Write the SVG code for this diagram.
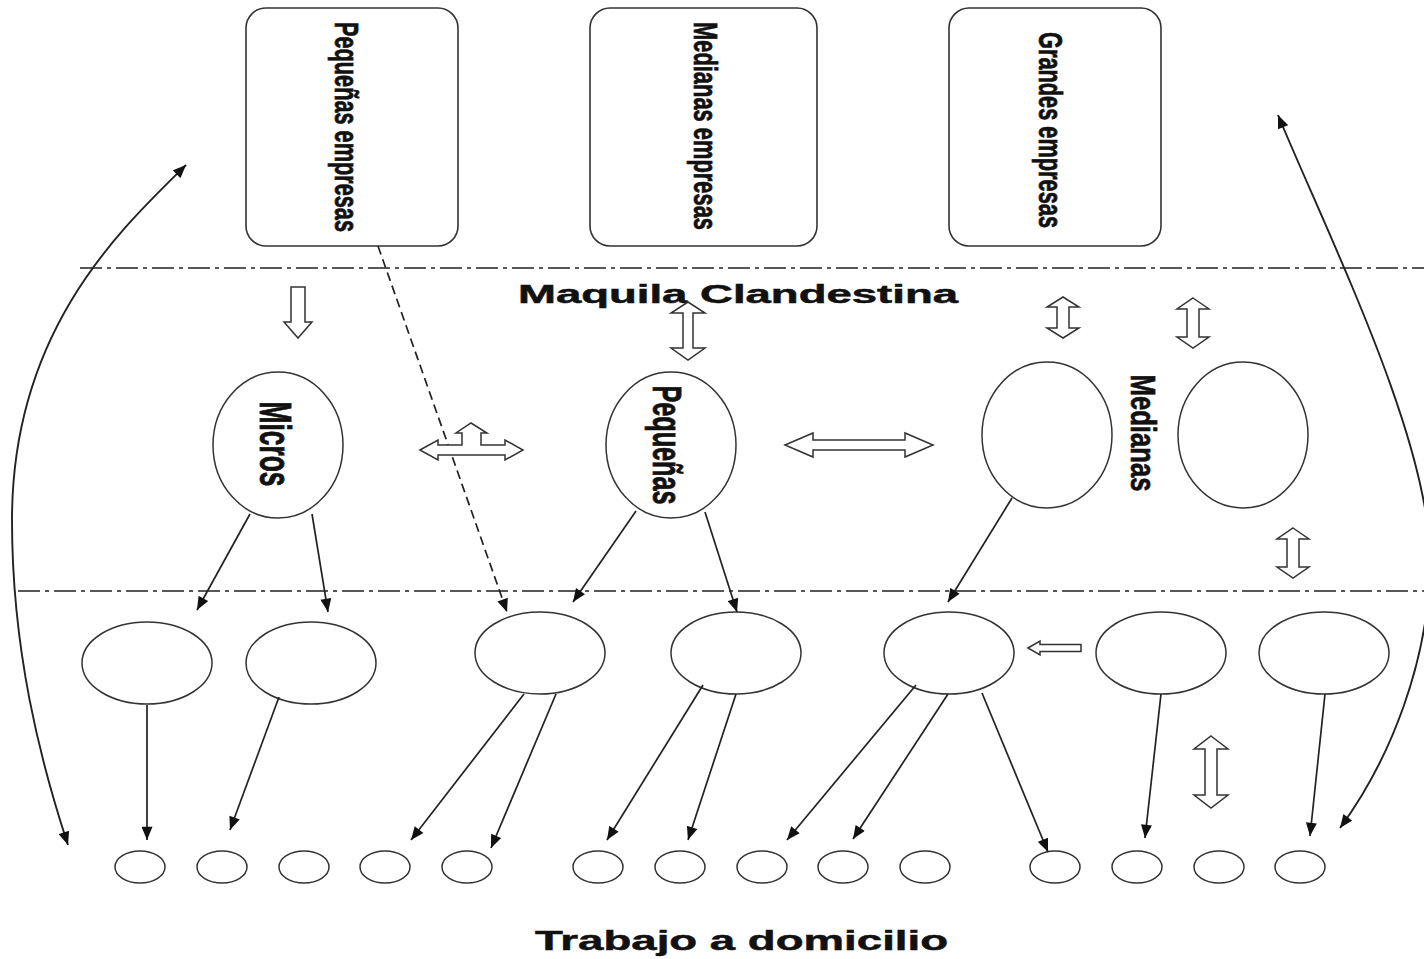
<svg xmlns="http://www.w3.org/2000/svg" width="1424" height="959" viewBox="0 0 1424 959">
<style>
.box{fill:#fff;stroke:#333;stroke-width:1.6}
.ell{fill:#fff;stroke:#333;stroke-width:1.5}
.hol{fill:#fff;stroke:#333;stroke-width:1.5;stroke-linejoin:miter}
.ln{fill:none;stroke:#222;stroke-width:1.7;marker-end:url(#ah)}
.dsh{fill:none;stroke:#222;stroke-width:1.7;stroke-dasharray:9 5;marker-end:url(#ah)}
.crv{fill:none;stroke:#222;stroke-width:1.9;marker-start:url(#ahs);marker-end:url(#ah)}
.sep{fill:none;stroke:#222;stroke-width:1.5;stroke-dasharray:22 5 4 5}
.t{font-family:"Liberation Sans",Arial,sans-serif;font-weight:bold;fill:#111;stroke:#111;stroke-width:0.5}
</style>
<defs>
<marker id="ah" viewBox="0 0 12 10" refX="12" refY="5" markerWidth="14" markerHeight="11" markerUnits="userSpaceOnUse" orient="auto"><path d="M0 0 L12 5 L0 10 Z" fill="#111"/></marker>
<marker id="ahs" viewBox="0 0 12 10" refX="12" refY="5" markerWidth="14" markerHeight="11" markerUnits="userSpaceOnUse" orient="auto-start-reverse"><path d="M0 0 L12 5 L0 10 Z" fill="#111"/></marker>
</defs>
<rect width="1424" height="959" fill="#fff"/>

<g id="separators">
<line class="sep" x1="80" y1="268" x2="1424" y2="268"/>
<line class="sep" x1="18" y1="591" x2="1424" y2="591"/>
</g>

<g id="box-pequenas-empresas">
<rect class="box" x="246" y="8" width="212" height="238" rx="20"/>
<text class="t" font-size="22" text-anchor="middle" textLength="210" lengthAdjust="spacingAndGlyphs" transform="translate(335,127) scale(1.5,1) rotate(90)">Pequeñas empresas</text>
</g>
<g id="box-medianas-empresas">
<rect class="box" x="590" y="8" width="227" height="238" rx="20"/>
<text class="t" font-size="22" text-anchor="middle" textLength="208" lengthAdjust="spacingAndGlyphs" transform="translate(694,126) scale(1.5,1) rotate(90)">Medianas empresas</text>
</g>
<g id="box-grandes-empresas">
<rect class="box" x="949" y="8" width="212" height="238" rx="20"/>
<text class="t" font-size="22" text-anchor="middle" textLength="196" lengthAdjust="spacingAndGlyphs" transform="translate(1039,130) scale(1.5,1) rotate(90)">Grandes empresas</text>
</g>

<g id="label-maquila">
<text class="t" x="518" y="303" font-size="26" textLength="440" lengthAdjust="spacingAndGlyphs">Maquila Clandestina</text>
</g>

<g id="node-micros">
<ellipse class="ell" cx="278" cy="445" rx="65" ry="73"/>
<text class="t" font-size="26" text-anchor="middle" textLength="85" lengthAdjust="spacingAndGlyphs" transform="translate(260,444) scale(1.7,1) rotate(90)">Micros</text>
</g>
<g id="node-pequenas">
<ellipse class="ell" cx="671" cy="445" rx="65" ry="73"/>
<text class="t" font-size="25" text-anchor="middle" textLength="119" lengthAdjust="spacingAndGlyphs" transform="translate(653,445) scale(1.66,1) rotate(90)">Pequeñas</text>
</g>
<g id="node-medianas">
<ellipse class="ell" cx="1047" cy="435" rx="65" ry="73"/>
<ellipse class="ell" cx="1243" cy="435" rx="65" ry="73"/>
<text class="t" font-size="25" text-anchor="middle" textLength="117" lengthAdjust="spacingAndGlyphs" transform="translate(1131,433) scale(1.4,1) rotate(90)">Medianas</text>
</g>

<g id="row2">
<ellipse class="ell" cx="147" cy="663" rx="65" ry="41"/>
<ellipse class="ell" cx="311" cy="663" rx="65" ry="41"/>
<ellipse class="ell" cx="540" cy="653" rx="65" ry="41"/>
<ellipse class="ell" cx="736" cy="653" rx="65" ry="41"/>
<ellipse class="ell" cx="949" cy="653" rx="65" ry="41"/>
<ellipse class="ell" cx="1161" cy="653" rx="65" ry="41"/>
<ellipse class="ell" cx="1324" cy="653" rx="65" ry="41"/>
</g>

<g id="homeworkers">
<ellipse class="ell" cx="140" cy="867" rx="25" ry="16"/>
<ellipse class="ell" cx="222" cy="867" rx="25" ry="16"/>
<ellipse class="ell" cx="304" cy="867" rx="25" ry="16"/>
<ellipse class="ell" cx="385" cy="867" rx="25" ry="16"/>
<ellipse class="ell" cx="467" cy="867" rx="25" ry="16"/>
<ellipse class="ell" cx="598" cy="867" rx="25" ry="16"/>
<ellipse class="ell" cx="680" cy="867" rx="25" ry="16"/>
<ellipse class="ell" cx="762" cy="867" rx="25" ry="16"/>
<ellipse class="ell" cx="843" cy="867" rx="25" ry="16"/>
<ellipse class="ell" cx="925" cy="867" rx="25" ry="16"/>
<ellipse class="ell" cx="1055" cy="867" rx="25" ry="16"/>
<ellipse class="ell" cx="1137" cy="867" rx="25" ry="16"/>
<ellipse class="ell" cx="1219" cy="867" rx="25" ry="16"/>
<ellipse class="ell" cx="1300" cy="867" rx="25" ry="16"/>
</g>

<g id="label-trabajo">
<text class="t" x="535" y="950" font-size="28" textLength="413" lengthAdjust="spacingAndGlyphs">Trabajo a domicilio</text>
</g>

<g id="connectors">
<path class="ln" d="M250 514 L197 610"/>
<path class="ln" d="M312 514 L328 612"/>
<path class="ln" d="M636 511 L573 602"/>
<path class="ln" d="M705 512 L737 612"/>
<path class="ln" d="M1012 498 L948 602"/>
<path class="ln" d="M147 705 L147 840"/>
<path class="ln" d="M279 697 L230 830"/>
<path class="ln" d="M524 694 L411 840"/>
<path class="ln" d="M556 694 L491 848"/>
<path class="ln" d="M703 685 L607 840"/>
<path class="ln" d="M736 694 L688 840"/>
<path class="ln" d="M916 685 L787 840"/>
<path class="ln" d="M948 694 L853 839"/>
<path class="ln" d="M982 693 L1048 852"/>
<path class="ln" d="M1161 694 L1145 838"/>
<path class="ln" d="M1325 694 L1310 836"/>
<path class="dsh" d="M378 246 L507 612"/>
<path class="crv" d="M68 845 C40 760 12 650 12 520 C12 330 120 230 186 165"/>
<path class="crv" d="M1278 115 C1330 240 1430 440 1430 560 C1430 660 1390 760 1340 828"/>
</g>

<g id="hollow-arrows">
<polygon class="hol" points="291,287 305,287 305,322 312,322 298,338 284,322 291,322"/>
<polygon class="hol" points="688,302 705,313 693,313 693,348 705,348 688,360 671,348 683,348 683,313 671,313"/>
<polygon class="hol" points="1063,297 1079,307 1069,307 1069,328 1079,328 1063,338 1047,328 1057,328 1057,307 1047,307"/>
<polygon class="hol" points="1193,298 1209,309 1199,309 1199,337 1209,337 1193,348 1177,337 1187,337 1187,309 1177,309"/>
<polygon class="hol" points="1293,528 1309,539 1299,539 1299,567 1309,567 1293,578 1277,567 1287,567 1287,539 1277,539"/>
<polygon class="hol" points="1211,736 1228,749 1217,749 1217,795 1228,795 1211,808 1194,795 1205,795 1205,749 1194,749"/>
<polygon class="hol" points="1028,648 1040,641 1040,644.5 1081,644.5 1081,651.5 1040,651.5 1040,655"/>
<polygon class="hol" points="785,445 813,433 813,440 905,440 905,433 933,445 905,457 905,450 813,450 813,457"/>
<polygon class="hol" points="420,450 438,440 438,445 462,445 462,433 456,433 471,423 487,433 481,433 481,445 505,445 505,440 523,450 505,460 505,455 438,455 438,460"/>
</g>
</svg>
